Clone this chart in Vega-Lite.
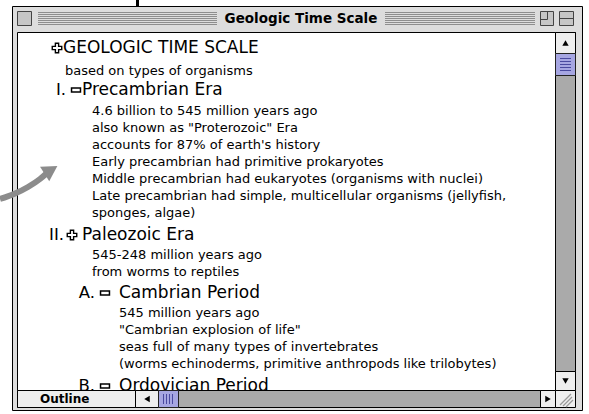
{
  "$schema": "https://vega.github.io/schema/vega-lite/v6.json",
  "width": 589,
  "height": 414,
  "autosize": "none",
  "padding": 0,
  "background": "white",
  "config": {"view": {"stroke": null}},
  "datasets": {
    "frame": [{"x": 12.5, "x2": 582.5, "y": 6.5, "y2": 410.5}],
    "content": [{"x": 17.5, "x2": 555.5, "y": 32.5, "y2": 390.5}],
    "pointer": [{"x": 136, "x2": 139, "y": 0, "y2": 6}],
    "stripes": [
      {"x": 38, "x2": 217, "y": 12.5}, {"x": 38, "x2": 217, "y": 14.5}, {"x": 38, "x2": 217, "y": 16.5},
      {"x": 38, "x2": 217, "y": 18.5}, {"x": 38, "x2": 217, "y": 20.5}, {"x": 38, "x2": 217, "y": 22.5},
      {"x": 38, "x2": 217, "y": 24.5},
      {"x": 385, "x2": 535, "y": 12.5}, {"x": 385, "x2": 535, "y": 14.5}, {"x": 385, "x2": 535, "y": 16.5},
      {"x": 385, "x2": 535, "y": 18.5}, {"x": 385, "x2": 535, "y": 20.5}, {"x": 385, "x2": 535, "y": 22.5},
      {"x": 385, "x2": 535, "y": 24.5}
    ],
    "tboxes": [
      {"x": 17.5, "x2": 31.5, "y": 11.5, "y2": 25.5},
      {"x": 540.5, "x2": 553.5, "y": 11.5, "y2": 25.5},
      {"x": 559.5, "x2": 573.5, "y": 11.5, "y2": 25.5}
    ],
    "tboxlines": [
      {"x": 559.5, "x2": 573.5, "y": 18.5},
      {"x": 540.5, "x2": 547.5, "y": 19.5}
    ],
    "tboxvlines": [
      {"x": 547.5, "y": 11.5, "y2": 19.5}
    ],
    "title": [{"t": "Geologic Time Scale", "x": 301, "y": 19}],
    "arrowline": [
      {"x": 0, "y": 199}, {"x": 14, "y": 194}, {"x": 28, "y": 187}, {"x": 40, "y": 179}, {"x": 47, "y": 173}
    ],
    "arrowhead": [{"x": 51, "y": 170}],
    "headings": [
      {"t": "GEOLOGIC TIME SCALE", "x": 63, "y": 48},
      {"t": "Precambrian Era", "x": 82, "y": 90},
      {"t": "Paleozoic Era", "x": 82, "y": 235},
      {"t": "Cambrian Period", "x": 119, "y": 293},
      {"t": "Ordovician Period", "x": 119, "y": 386}
    ],
    "labels": [
      {"t": "I.", "x": 66, "y": 90},
      {"t": "II.", "x": 64, "y": 235},
      {"t": "A.", "x": 95, "y": 293},
      {"t": "B.", "x": 95, "y": 386}
    ],
    "plus": [{"x": 57, "y": 48}, {"x": 72, "y": 235}],
    "minus": [{"x": 76, "y": 90}, {"x": 105, "y": 293}, {"x": 105, "y": 386}],
    "body": [
      {"t": "based on types of organisms", "x": 65, "y": 71},
      {"t": "4.6 billion to 545 million years ago", "x": 92, "y": 111},
      {"t": "also known as \"Proterozoic\" Era", "x": 92, "y": 128},
      {"t": "accounts for 87% of earth's history", "x": 92, "y": 145},
      {"t": "Early precambrian had primitive prokaryotes", "x": 92, "y": 162},
      {"t": "Middle precambrian had eukaryotes (organisms with nuclei)", "x": 92, "y": 179},
      {"t": "Late precambrian had simple, multicellular organisms (jellyfish,", "x": 92, "y": 196},
      {"t": "sponges, algae)", "x": 92, "y": 213},
      {"t": "545-248 million years ago", "x": 92, "y": 255},
      {"t": "from worms to reptiles", "x": 92, "y": 272},
      {"t": "545 million years ago", "x": 119, "y": 313},
      {"t": "\"Cambrian explosion of life\"", "x": 119, "y": 330},
      {"t": "seas full of many types of invertebrates", "x": 119, "y": 347},
      {"t": "(worms echinoderms, primitive anthropods like trilobytes)", "x": 119, "y": 364}
    ],
    "tracks": [
      {"x": 555.5, "x2": 575.5, "y": 32.5, "y2": 390.5},
      {"x": 17.5, "x2": 555.5, "y": 390.5, "y2": 407.5}
    ],
    "lightboxes": [
      {"x": 555.5, "x2": 575.5, "y": 32.5, "y2": 53.5},
      {"x": 555.5, "x2": 575.5, "y": 371.5, "y2": 390.5},
      {"x": 17.5, "x2": 135.5, "y": 390.5, "y2": 407.5},
      {"x": 135.5, "x2": 158.5, "y": 390.5, "y2": 407.5},
      {"x": 540.5, "x2": 555.5, "y": 390.5, "y2": 407.5},
      {"x": 555.5, "x2": 575.5, "y": 390.5, "y2": 407.5}
    ],
    "thumbs": [
      {"x": 555.5, "x2": 575.5, "y": 53.5, "y2": 75.5},
      {"x": 158.5, "x2": 178.5, "y": 390.5, "y2": 407.5}
    ],
    "griph": [
      {"x": 560, "x2": 571, "y": 58.5}, {"x": 560, "x2": 571, "y": 61.5},
      {"x": 560, "x2": 571, "y": 64.5}, {"x": 560, "x2": 571, "y": 67.5},
      {"x": 560, "x2": 571, "y": 70.5}
    ],
    "gripv": [
      {"x": 163.5, "y": 394, "y2": 404}, {"x": 166.5, "y": 394, "y2": 404},
      {"x": 169.5, "y": 394, "y2": 404}, {"x": 172.5, "y": 394, "y2": 404}
    ],
    "resize": [
      {"x": 560, "x2": 571, "y": 405, "y2": 394},
      {"x": 563, "x2": 572, "y": 406, "y2": 397},
      {"x": 566, "x2": 573, "y": 407, "y2": 400}
    ],
    "arrows": [
      {"x": 565.5, "y": 43, "s": "triangle-up"},
      {"x": 565.5, "y": 381, "s": "triangle-down"},
      {"x": 147, "y": 399, "s": "triangle-left"},
      {"x": 548, "y": 399, "s": "triangle-right"}
    ],
    "tab": [{"t": "Outline", "x": 40, "y": 399}]
  },
  "layer": [
    {
      "data": {"name": "frame"},
      "mark": {"type": "rect", "fill": "#DDDDDD", "stroke": "#000000", "strokeWidth": 1},
      "encoding": {
        "x": {"field": "x", "type": "quantitative", "scale": {"domain": [0, 589], "nice": false, "zero": false}, "axis": null},
        "x2": {"field": "x2"},
        "y": {"field": "y", "type": "quantitative", "scale": {"domain": [0, 414], "nice": false, "zero": false, "reverse": true}, "axis": null},
        "y2": {"field": "y2"}
      }
    },
    {
      "data": {"name": "pointer"},
      "mark": {"type": "rect", "fill": "#000000"},
      "encoding": {
        "x": {"field": "x", "type": "quantitative", "axis": null}, "x2": {"field": "x2"},
        "y": {"field": "y", "type": "quantitative", "axis": null}, "y2": {"field": "y2"}
      }
    },
    {
      "data": {"name": "stripes"},
      "mark": {"type": "rule", "stroke": "#8E8E8E", "strokeWidth": 1},
      "encoding": {
        "x": {"field": "x", "type": "quantitative", "axis": null}, "x2": {"field": "x2"},
        "y": {"field": "y", "type": "quantitative", "axis": null}
      }
    },
    {
      "data": {"name": "tboxes"},
      "mark": {"type": "rect", "fill": "#C6C6C6", "stroke": "#444444", "strokeWidth": 1},
      "encoding": {
        "x": {"field": "x", "type": "quantitative", "axis": null}, "x2": {"field": "x2"},
        "y": {"field": "y", "type": "quantitative", "axis": null}, "y2": {"field": "y2"}
      }
    },
    {
      "data": {"name": "tboxlines"},
      "mark": {"type": "rule", "stroke": "#444444", "strokeWidth": 1},
      "encoding": {
        "x": {"field": "x", "type": "quantitative", "axis": null}, "x2": {"field": "x2"},
        "y": {"field": "y", "type": "quantitative", "axis": null}
      }
    },
    {
      "data": {"name": "tboxvlines"},
      "mark": {"type": "rule", "stroke": "#444444", "strokeWidth": 1},
      "encoding": {
        "x": {"field": "x", "type": "quantitative", "axis": null},
        "y": {"field": "y", "type": "quantitative", "axis": null}, "y2": {"field": "y2"}
      }
    },
    {
      "data": {"name": "title"},
      "mark": {"type": "text", "font": "DejaVu Sans", "fontWeight": "bold", "fontSize": 13.5, "align": "center", "baseline": "middle", "color": "#000000"},
      "encoding": {
        "x": {"field": "x", "type": "quantitative", "axis": null},
        "y": {"field": "y", "type": "quantitative", "axis": null},
        "text": {"field": "t"}
      }
    },
    {
      "data": {"name": "content"},
      "mark": {"type": "rect", "fill": "#FFFFFF", "stroke": "#000000", "strokeWidth": 1},
      "encoding": {
        "x": {"field": "x", "type": "quantitative", "axis": null}, "x2": {"field": "x2"},
        "y": {"field": "y", "type": "quantitative", "axis": null}, "y2": {"field": "y2"}
      }
    },
    {
      "data": {"name": "headings"},
      "mark": {"type": "text", "font": "DejaVu Sans", "fontSize": 17, "align": "left", "baseline": "middle", "color": "#000000"},
      "encoding": {
        "x": {"field": "x", "type": "quantitative", "axis": null},
        "y": {"field": "y", "type": "quantitative", "axis": null},
        "text": {"field": "t"}
      }
    },
    {
      "data": {"name": "labels"},
      "mark": {"type": "text", "font": "DejaVu Sans", "fontSize": 16.5, "align": "right", "baseline": "middle", "color": "#000000"},
      "encoding": {
        "x": {"field": "x", "type": "quantitative", "axis": null},
        "y": {"field": "y", "type": "quantitative", "axis": null},
        "text": {"field": "t"}
      }
    },
    {
      "data": {"name": "plus"},
      "mark": {"type": "point", "shape": "M-0.34,-1H0.34V-0.34H1V0.34H0.34V1H-0.34V0.34H-1V-0.34H-0.34Z", "size": 90, "filled": true, "fill": "#FFFFFF", "stroke": "#000000", "strokeWidth": 1.4, "opacity": 1},
      "encoding": {
        "x": {"field": "x", "type": "quantitative", "axis": null},
        "y": {"field": "y", "type": "quantitative", "axis": null}
      }
    },
    {
      "data": {"name": "minus"},
      "mark": {"type": "point", "shape": "M-1,-0.45H1V0.45H-1Z", "size": 80, "filled": true, "fill": "#FFFFFF", "stroke": "#000000", "strokeWidth": 1.5, "opacity": 1},
      "encoding": {
        "x": {"field": "x", "type": "quantitative", "axis": null},
        "y": {"field": "y", "type": "quantitative", "axis": null}
      }
    },
    {
      "data": {"name": "body"},
      "mark": {"type": "text", "font": "DejaVu Sans", "fontSize": 13, "align": "left", "baseline": "middle", "color": "#000000"},
      "encoding": {
        "x": {"field": "x", "type": "quantitative", "axis": null},
        "y": {"field": "y", "type": "quantitative", "axis": null},
        "text": {"field": "t"}
      }
    },
    {
      "data": {"name": "tracks"},
      "mark": {"type": "rect", "fill": "#AAAAAA", "stroke": "#000000", "strokeWidth": 1},
      "encoding": {
        "x": {"field": "x", "type": "quantitative", "axis": null}, "x2": {"field": "x2"},
        "y": {"field": "y", "type": "quantitative", "axis": null}, "y2": {"field": "y2"}
      }
    },
    {
      "data": {"name": "lightboxes"},
      "mark": {"type": "rect", "fill": "#EEEEEE", "stroke": "#000000", "strokeWidth": 1},
      "encoding": {
        "x": {"field": "x", "type": "quantitative", "axis": null}, "x2": {"field": "x2"},
        "y": {"field": "y", "type": "quantitative", "axis": null}, "y2": {"field": "y2"}
      }
    },
    {
      "data": {"name": "thumbs"},
      "mark": {"type": "rect", "fill": "#A6A6E2", "stroke": "#222222", "strokeWidth": 1},
      "encoding": {
        "x": {"field": "x", "type": "quantitative", "axis": null}, "x2": {"field": "x2"},
        "y": {"field": "y", "type": "quantitative", "axis": null}, "y2": {"field": "y2"}
      }
    },
    {
      "data": {"name": "griph"},
      "mark": {"type": "rule", "stroke": "#4A4AA0", "strokeWidth": 1},
      "encoding": {
        "x": {"field": "x", "type": "quantitative", "axis": null}, "x2": {"field": "x2"},
        "y": {"field": "y", "type": "quantitative", "axis": null}
      }
    },
    {
      "data": {"name": "gripv"},
      "mark": {"type": "rule", "stroke": "#4A4AA0", "strokeWidth": 1},
      "encoding": {
        "x": {"field": "x", "type": "quantitative", "axis": null},
        "y": {"field": "y", "type": "quantitative", "axis": null}, "y2": {"field": "y2"}
      }
    },
    {
      "data": {"name": "resize"},
      "mark": {"type": "rule", "stroke": "#999999", "strokeWidth": 1.2},
      "encoding": {
        "x": {"field": "x", "type": "quantitative", "axis": null}, "x2": {"field": "x2"},
        "y": {"field": "y", "type": "quantitative", "axis": null}, "y2": {"field": "y2"}
      }
    },
    {
      "data": {"name": "arrows"},
      "mark": {"type": "point", "filled": true, "size": 40, "color": "#000000", "opacity": 1},
      "encoding": {
        "x": {"field": "x", "type": "quantitative", "axis": null},
        "y": {"field": "y", "type": "quantitative", "axis": null},
        "shape": {"field": "s", "type": "nominal", "scale": null, "legend": null}
      }
    },
    {
      "data": {"name": "tab"},
      "mark": {"type": "text", "font": "DejaVu Sans", "fontWeight": "bold", "fontSize": 12, "align": "left", "baseline": "middle", "color": "#000000"},
      "encoding": {
        "x": {"field": "x", "type": "quantitative", "axis": null},
        "y": {"field": "y", "type": "quantitative", "axis": null},
        "text": {"field": "t"}
      }
    },
    {
      "data": {"name": "arrowline"},
      "mark": {"type": "line", "stroke": "#8C8C8C", "strokeWidth": 6, "interpolate": "monotone", "strokeCap": "butt"},
      "encoding": {
        "x": {"field": "x", "type": "quantitative", "axis": null},
        "y": {"field": "y", "type": "quantitative", "axis": null}
      }
    },
    {
      "data": {"name": "arrowhead"},
      "mark": {"type": "point", "shape": "triangle-up", "filled": true, "size": 300, "color": "#8C8C8C", "opacity": 1, "angle": 58},
      "encoding": {
        "x": {"field": "x", "type": "quantitative", "axis": null},
        "y": {"field": "y", "type": "quantitative", "axis": null}
      }
    }
  ]
}
